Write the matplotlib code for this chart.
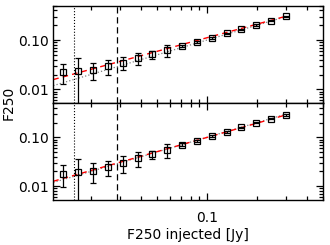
import numpy as np
import matplotlib
matplotlib.use('Agg')
import matplotlib.pyplot as plt
import matplotlib.ticker as mticker

# injected flux (Jy) and recovered flux
x_inj = [0.0137, 0.0168, 0.0206, 0.0254, 0.0312, 0.0383, 0.047, 0.0578,
         0.071, 0.0872, 0.107, 0.132, 0.162, 0.199, 0.244, 0.30]

f_top = [0.0224, 0.0238, 0.025, 0.0297, 0.035, 0.0438, 0.0513, 0.0627,
         0.0756, 0.0898, 0.111, 0.137, 0.165, 0.204, 0.246, 0.307]
e_top = [0.0097, 0.019, 0.0096, 0.010, 0.0105, 0.012, 0.009, 0.017,
         0.004, 0.004, 0.004, 0.005, 0.005, 0.006, 0.007, 0.008]

f_bot = [0.0181, 0.0195, 0.0204, 0.0246, 0.0297, 0.0375, 0.0446, 0.0555,
         0.0701, 0.0857, 0.108, 0.131, 0.160, 0.199, 0.243, 0.289]
e_bot = [0.0087, 0.017, 0.009, 0.0086, 0.011, 0.013, 0.009, 0.017,
         0.005, 0.004, 0.004, 0.005, 0.005, 0.006, 0.007, 0.008]

# power-law fits (end points) and 1:1 line
fit_x = [0.0119, 0.30]
fit_top = [0.0158, 0.305]
fit_bot = [0.0126, 0.289]
one_to_one = [0.0119, 0.30]

# vertical limits
x_dotted = 0.0159
x_dashed = 0.0288

xlim = (0.0119, 0.5)
ylim = (0.0052, 0.5)

plt.rcParams['font.family'] = 'DejaVu Sans'
plt.rcParams['font.size'] = 10

fig = plt.figure(figsize=(3.3, 2.45), dpi=100)
ax1 = fig.add_axes([0.1615, 0.5783, 0.8164, 0.3984])
ax2 = fig.add_axes([0.1615, 0.1837, 0.8164, 0.3946])

for ax, f, e, fit in [(ax1, f_top, e_top, fit_top), (ax2, f_bot, e_bot, fit_bot)]:
    ax.set_xscale('log')
    ax.set_yscale('log')
    ax.plot(one_to_one, one_to_one, color='0.5', ls=':', lw=0.9, zorder=1)
    ax.plot(fit_x, fit, color='r', ls=(0, (4, 3)), lw=1.0, zorder=2)
    ax.axvline(x_dotted, color='k', ls=':', lw=0.8)
    ax.axvline(x_dashed, color='k', ls=(0, (5, 3)), lw=0.9)
    ax.errorbar(x_inj, f, yerr=e, fmt='s', ms=5, mfc='none', mec='k',
                mew=0.9, ecolor='k', elinewidth=0.9, capsize=2, capthick=0.9,
                zorder=3)
    ax.set_xlim(xlim)
    ax.set_ylim(ylim)
    ax.yaxis.set_major_locator(mticker.FixedLocator([0.01, 0.1]))
    ax.yaxis.set_major_formatter(mticker.FixedFormatter(['0.01', '0.10']))
    ax.yaxis.set_minor_locator(mticker.LogLocator(base=10, subs=np.arange(2, 10)))
    ax.yaxis.set_minor_formatter(mticker.NullFormatter())
    ax.xaxis.set_minor_locator(mticker.LogLocator(base=10, subs=np.arange(2, 10)))
    ax.xaxis.set_minor_formatter(mticker.NullFormatter())
    ax.tick_params(which='both', direction='in', top=True, right=True, width=0.9)
    ax.tick_params(which='major', length=5)
    ax.tick_params(which='minor', length=3)
    ax.tick_params(axis='x', which='major', pad=8)
    for s in ax.spines.values():
        s.set_linewidth(1.0)

ax1.xaxis.set_major_locator(mticker.FixedLocator([0.1]))
ax1.xaxis.set_major_formatter(mticker.NullFormatter())
ax2.xaxis.set_major_locator(mticker.FixedLocator([0.1]))
ax2.xaxis.set_major_formatter(mticker.FixedFormatter(['0.1']))

ax2.set_xlabel('F250 injected [Jy]', labelpad=2)
fig.text(0.025, 0.58, 'F250', rotation=90, ha='center', va='center')

fig.savefig('out.png', dpi=100)
